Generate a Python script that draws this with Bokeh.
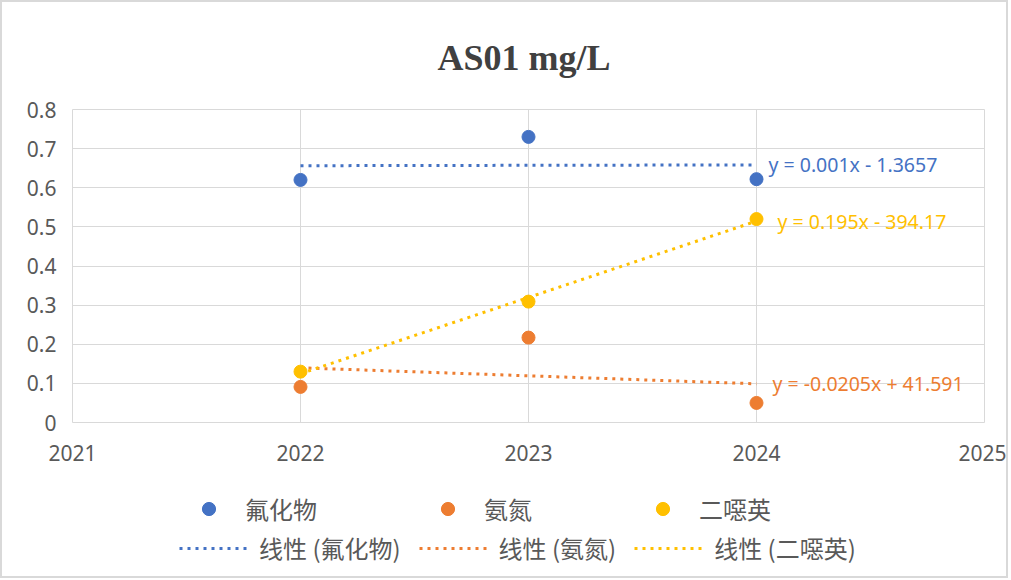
import numpy as np
from bokeh.plotting import figure
from bokeh.layouts import column
from bokeh.models import FixedTicker, Legend, LegendItem, Range1d
from bokeh.core.properties import value
from bokeh.embed import file_html
from bokeh.resources import INLINE

# ---------------- data ----------------
title_text = "AS01  mg/L"
years = [2022, 2023, 2024]
series_names = ["氟化物", "氨氮", "二噁英"]
fluoride = [0.62, 0.73, 0.622]
ammonia = [0.091, 0.217, 0.050]
dioxin = [0.13, 0.309, 0.52]
trend_names = ["线性 (氟化物)", "线性 (氨氮)", "线性 (二噁英)"]
trend_equations = ["y = 0.001x - 1.3657", "y = -0.0205x + 41.591", "y = 0.195x - 394.17"]
x_ticks = [2021, 2022, 2023, 2024, 2025]
x_tick_labels = ["2021", "2022", "2023", "2024", "2025"]
y_ticks = [0, 0.1, 0.2, 0.3, 0.4, 0.5, 0.6, 0.7, 0.8]
y_tick_labels = ["0", "0.1", "0.2", "0.3", "0.4", "0.5", "0.6", "0.7", "0.8"]

# ---------------- style ----------------
colors = ["#4472C4", "#ED7D31", "#FFC000"]
eq_offsets = [12, 16, 21]
text_gray = "#595959"
grid_gray = "#d9d9d9"
dash = "3 5"

p = figure(width=1004, height=476, output_backend="svg", toolbar_location=None,
           x_range=Range1d(x_ticks[0], x_ticks[-1]), y_range=Range1d(y_ticks[0], y_ticks[-1]),
           min_border_left=70, min_border_right=22, min_border_top=107, min_border_bottom=56,
           title=title_text)
p.background_fill_color = "white"
p.border_fill_color = "white"
p.outline_line_color = grid_gray

p.title.text_font = "Liberation Serif"
p.title.text_font_style = "bold"
p.title.text_font_size = "36px"
p.title.text_color = "#404040"
p.title.align = "center"
p.title.offset = -12
p.title.standoff = 64

p.xaxis.ticker = FixedTicker(ticks=x_ticks)
p.xaxis.major_label_overrides = dict(zip(x_ticks, x_tick_labels))
p.yaxis.ticker = FixedTicker(ticks=y_ticks)
p.yaxis.major_label_overrides = dict(zip(y_ticks, y_tick_labels))
p.xgrid.ticker = FixedTicker(ticks=x_ticks)
p.ygrid.ticker = FixedTicker(ticks=y_ticks)
p.grid.grid_line_color = grid_gray
p.grid.grid_line_width = 1
p.axis.axis_line_color = None
p.axis.major_tick_line_color = None
p.axis.minor_tick_line_color = None
p.axis.major_label_text_font = "Noto Sans"
p.axis.major_label_text_font_size = "21px"
p.axis.major_label_text_color = text_gray
p.xaxis.major_label_standoff = 16
p.yaxis.major_label_standoff = 10

all_series = [fluoride, ammonia, dioxin]
for vals, eq, c, off in zip(all_series, trend_equations, colors, eq_offsets):
    coef = np.polyfit(years, vals, 1)
    xs = [years[0], years[-1]]
    ys = list(np.polyval(coef, xs))
    p.line(xs, ys, line_color=c, line_width=3, line_dash=dash)
    p.scatter(years, vals, size=13, fill_color=c, line_color=c)
    p.text(x=[xs[-1]], y=[ys[-1]], text=[eq], x_offset=off,
           text_baseline="middle", text_align="left",
           text_font=value("Noto Sans"), text_font_size="19.5px", text_color=c)

# ---------------- legend strip (same series, out of view; only legend glyphs show) ----------------
q = figure(width=1004, height=98, output_backend="svg", toolbar_location=None,
           x_axis_type=None, y_axis_type=None, x_range=Range1d(0, 1), y_range=Range1d(0, 1),
           min_border=0)
q.outline_line_color = None
q.background_fill_color = "white"
q.border_fill_color = "white"
q.grid.visible = False

dot_items = []
line_items = []
for name, tname, vals, c in zip(series_names, trend_names, all_series, colors):
    sr = q.scatter(years, vals, size=13, fill_color=c, line_color=c)
    lr = q.line(years, vals, line_color=c, line_width=3, line_dash=dash)
    dot_items.append(LegendItem(label=name, renderers=[sr]))
    line_items.append(LegendItem(label=tname, renderers=[lr]))

common = dict(orientation="horizontal", padding=4, margin=0, label_height=26,
              label_text_font="Noto Sans CJK SC", label_text_font_size="24px",
              label_text_color=text_gray, border_line_color=None,
              background_fill_alpha=0)
legend_dots = Legend(items=dot_items, location=(120, 50), glyph_width=33, glyph_height=33,
                     label_standoff=20, spacing=114, **common)
legend_lines = Legend(items=line_items, location=(107, 11), glyph_width=68, glyph_height=20,
                      label_standoff=12, spacing=18, **common)
q.add_layout(legend_dots, "center")
q.add_layout(legend_lines, "center")

layout = column(p, q, spacing=0, styles={"border": "2px solid #d9d9d9"})
open("out.html", "w").write(file_html(layout, INLINE))
